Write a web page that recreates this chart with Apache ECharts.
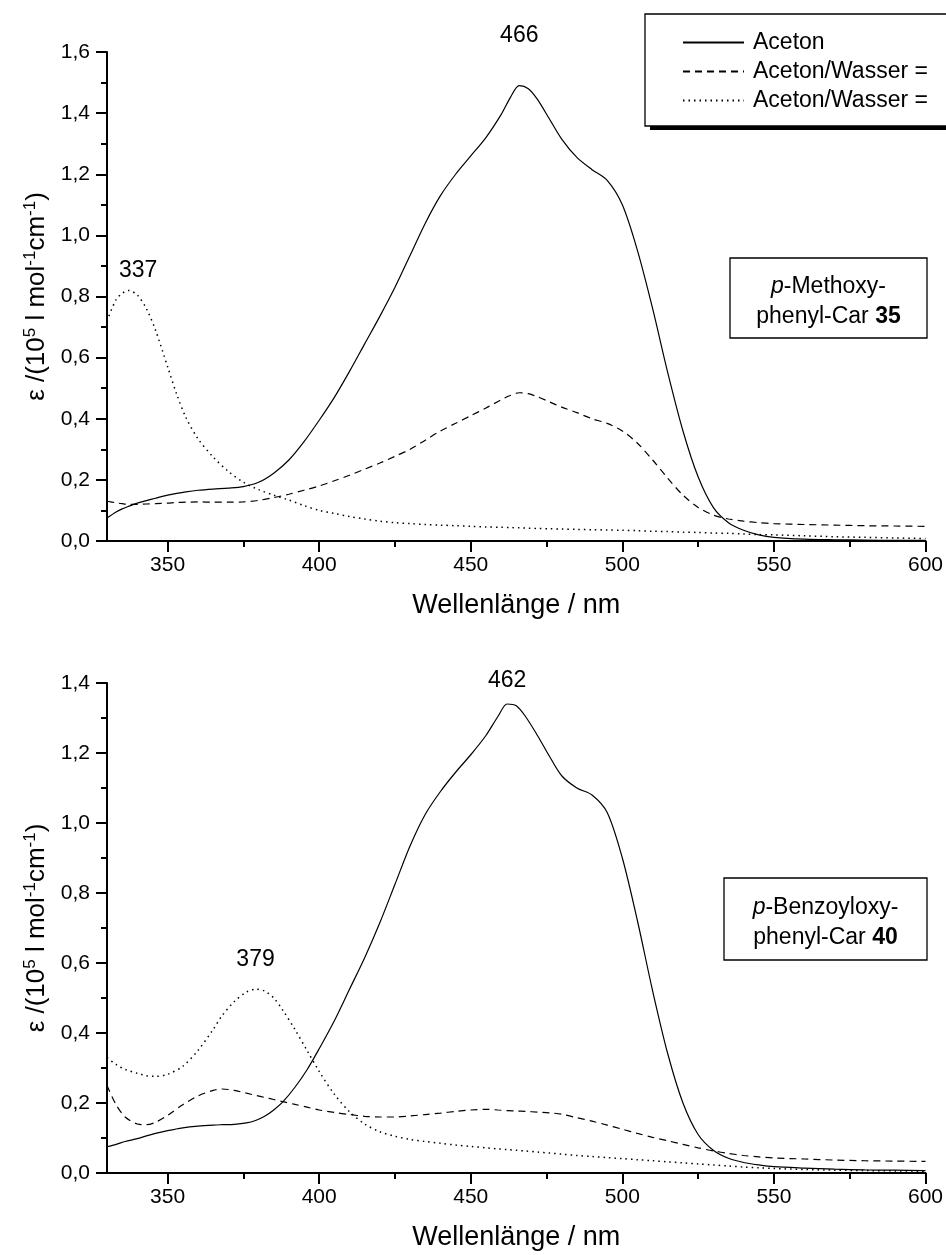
<!DOCTYPE html>
<html>
<head>
<meta charset="utf-8">
<title>UV/Vis-Spektren</title>
<script src="https://cdn.jsdelivr.net/npm/echarts@6/dist/echarts.min.js"></script>
<style>
  html, body { margin: 0; padding: 0; background: #fff; }
  #chart { width: 946px; height: 1255px; }
</style>
</head>
<body>
<div id="chart"></div>
<script>
// ---- Spectra: p-Methoxyphenyl-Car 35 (upper panel) ----
const wlTop = [330, 333, 335, 337, 340, 343, 346, 350, 353, 356, 360, 365, 370, 375, 380, 385, 390, 395,
  400, 405, 410, 415, 420, 425, 430, 435, 440, 445, 450, 455, 460, 463, 466, 469, 472, 476, 480, 485,
  490, 495, 500, 505, 510, 515, 520, 525, 530, 535, 540, 545, 550, 560, 570, 580, 590, 600];
const acetonTop = [0.075, 0.095, 0.105, 0.113, 0.124, 0.132, 0.140, 0.150, 0.156, 0.161, 0.166, 0.170, 0.173, 0.178,
  0.192, 0.222, 0.265, 0.325, 0.395, 0.470, 0.555, 0.645, 0.735, 0.830, 0.935, 1.040, 1.130, 1.200, 1.260,
  1.320, 1.395, 1.450, 1.490, 1.480, 1.445, 1.380, 1.315, 1.255, 1.215, 1.180, 1.100, 0.950, 0.760, 0.550,
  0.360, 0.210, 0.110, 0.060, 0.035, 0.020, 0.012, 0.006, 0.004, 0.003, 0.002, 0.002];
const wasser1Top = [0.130, 0.125, 0.122, 0.120, 0.120, 0.121, 0.122, 0.124, 0.126, 0.127, 0.128, 0.127, 0.127, 0.128,
  0.133, 0.142, 0.153, 0.166, 0.180, 0.197, 0.215, 0.235, 0.255, 0.277, 0.300, 0.330, 0.360, 0.385, 0.410,
  0.435, 0.462, 0.476, 0.485, 0.482, 0.472, 0.455, 0.438, 0.420, 0.400, 0.385, 0.360, 0.320, 0.265, 0.205,
  0.150, 0.110, 0.085, 0.072, 0.065, 0.060, 0.057, 0.054, 0.052, 0.050, 0.049, 0.048];
const wasser2Top = [0.720, 0.790, 0.810, 0.820, 0.805, 0.760, 0.690, 0.570, 0.480, 0.405, 0.335, 0.275, 0.228, 0.192,
  0.168, 0.150, 0.134, 0.116, 0.100, 0.090, 0.080, 0.072, 0.065, 0.060, 0.057, 0.054, 0.052, 0.050, 0.048,
  0.046, 0.045, 0.044, 0.043, 0.042, 0.041, 0.040, 0.039, 0.038, 0.037, 0.036, 0.035, 0.034, 0.032, 0.031,
  0.029, 0.028, 0.026, 0.025, 0.023, 0.021, 0.020, 0.017, 0.014, 0.012, 0.010, 0.008];

// ---- Spectra: p-Benzoyloxyphenyl-Car 40 (lower panel) ----
const wlBottom = [330, 333, 336, 340, 343, 346, 350, 355, 360, 365, 368, 372, 376, 379, 382, 385, 388, 392, 396,
  400, 405, 410, 415, 420, 425, 430, 435, 440, 445, 450, 455, 459, 462, 465, 468, 472, 476, 480, 485, 490,
  495, 500, 505, 510, 515, 520, 525, 530, 535, 540, 545, 550, 560, 570, 580, 590, 600];
const acetonBottom = [0.075, 0.082, 0.090, 0.098, 0.106, 0.113, 0.121, 0.129, 0.134, 0.137, 0.138, 0.139, 0.143,
  0.150, 0.162, 0.180, 0.203, 0.245, 0.295, 0.355, 0.435, 0.525, 0.615, 0.715, 0.825, 0.935, 1.025, 1.090,
  1.145, 1.195, 1.250, 1.305, 1.340, 1.335, 1.305, 1.250, 1.190, 1.135, 1.100, 1.080, 1.030, 0.900, 0.720,
  0.520, 0.340, 0.200, 0.110, 0.065, 0.042, 0.030, 0.023, 0.018, 0.014, 0.011, 0.009, 0.008, 0.007];
const wasser1Bottom = [0.250, 0.195, 0.160, 0.140, 0.138, 0.145, 0.165, 0.195, 0.220, 0.236, 0.240, 0.236, 0.228,
  0.222, 0.216, 0.210, 0.204, 0.196, 0.188, 0.180, 0.173, 0.167, 0.162, 0.160, 0.160, 0.163, 0.167, 0.171,
  0.176, 0.180, 0.182, 0.180, 0.178, 0.177, 0.176, 0.174, 0.172, 0.168, 0.158, 0.148, 0.137, 0.125, 0.113,
  0.102, 0.092, 0.082, 0.072, 0.063, 0.056, 0.050, 0.046, 0.043, 0.040, 0.037, 0.035, 0.034, 0.033];
const wasser2Bottom = [0.330, 0.310, 0.296, 0.285, 0.278, 0.276, 0.282, 0.305, 0.350, 0.410, 0.450, 0.490, 0.517,
  0.525, 0.520, 0.500, 0.465, 0.410, 0.350, 0.290, 0.225, 0.175, 0.140, 0.118, 0.105, 0.096, 0.090, 0.085,
  0.080, 0.076, 0.072, 0.069, 0.067, 0.065, 0.063, 0.060, 0.057, 0.054, 0.050, 0.047, 0.044, 0.041, 0.038,
  0.035, 0.032, 0.029, 0.026, 0.023, 0.020, 0.017, 0.015, 0.013, 0.010, 0.008, 0.007, 0.006, 0.005];

// ---- Axes and labels ----
const xMin = 330, xMax = 600;
const xTicks = [350, 400, 450, 500, 550, 600];
const xMinorTicks = [375, 425, 475, 525, 575];
const yMaxTop = 1.6, yMaxBottom = 1.4, yStep = 0.2;
const xTitle = 'Wellenlänge / nm';
const seriesNames = ['Aceton', 'Aceton/Wasser I', 'Aceton/Wasser II'];
const legendLabels = ['Aceton', 'Aceton/Wasser =', 'Aceton/Wasser ='];
const compoundTop = ['p', '-Methoxy-', 'phenyl-Car ', '35'];
const compoundBottom = ['p', '-Benzoyloxy-', 'phenyl-Car ', '40'];

const FONT = '"Liberation Sans", Arial, Helvetica, sans-serif';
const BLACK = '#000';

const pairs = (xs, ys) => xs.map((x, i) => [x, ys[i]]);
function peakOf(xs, ys) {
  let k = 0;
  for (let i = 1; i < ys.length; i++) if (ys[i] > ys[k]) k = i;
  return [xs[k], ys[k]];
}
const commaFmt = v => v.toFixed(1).replace('.', ',');

const GRID_LEFT = 107, GRID_W = 819;
const grids = [
  { left: GRID_LEFT, top: 52, width: GRID_W, height: 489 },
  { left: GRID_LEFT, top: 683, width: GRID_W, height: 490 }
];

function mainX(gridIndex) {
  return {
    gridIndex, type: 'value', min: xMin, max: xMax, position: 'bottom',
    axisLine: { show: true, onZero: false, lineStyle: { color: BLACK, width: 2 } },
    axisTick: { show: true, customValues: xTicks, length: 11, lineStyle: { color: BLACK, width: 2 } },
    axisLabel: { customValues: xTicks, margin: 14, fontSize: 21, fontFamily: FONT, color: BLACK },
    splitLine: { show: false },
    name: xTitle, nameLocation: 'middle', nameGap: 51,
    nameTextStyle: { fontSize: 27, fontFamily: FONT, color: BLACK }
  };
}
// short intermediate ticks, drawn by a companion axis laid onto the bottom edge
function minorX(gridIndex) {
  return {
    gridIndex, type: 'value', min: xMin, max: xMax, position: 'top', offset: -grids[gridIndex].height,
    axisLine: { show: false, onZero: false },
    axisTick: { show: true, inside: true, customValues: xMinorTicks, length: 6, lineStyle: { color: BLACK, width: 2 } },
    axisLabel: { show: false }, splitLine: { show: false }
  };
}
const yName = '{t|ε /(10}{s|5}{t| l mol}{s|-1}{t|cm}{s|-1}{t|)}';
function yAx(gridIndex, max) {
  return {
    gridIndex, type: 'value', min: 0, max, interval: yStep,
    axisLine: { show: true, onZero: false, lineStyle: { color: BLACK, width: 2 } },
    axisTick: { show: true, length: 11, lineStyle: { color: BLACK, width: 2 } },
    minorTick: { show: true, splitNumber: 2, length: 6, lineStyle: { color: BLACK, width: 2 } },
    axisLabel: { formatter: commaFmt, margin: 17, fontSize: 21, fontFamily: FONT, color: BLACK },
    splitLine: { show: false }, minorSplitLine: { show: false },
    name: yName, nameLocation: 'middle', nameRotate: 90, nameGap: 54,
    nameTextStyle: {
      fontSize: 26, fontFamily: FONT, color: BLACK,
      rich: {
        t: { fontSize: 26, fontFamily: FONT, color: BLACK, lineHeight: 31 },
        s: { fontSize: 17, fontFamily: FONT, color: BLACK, lineHeight: 17, verticalAlign: 'top' }
      }
    }
  };
}

const lineTypes = ['solid', [7, 5], [1.5, 4]];
function spectrum(idx, xs, ys, xAxisIndex, yAxisIndex, peakLabel) {
  const s = {
    name: seriesNames[idx], type: 'line', xAxisIndex, yAxisIndex,
    data: pairs(xs, ys), symbol: 'none', showSymbol: false, smooth: 0.3,
    lineStyle: { color: BLACK, width: idx === 2 ? 1.5 : 1.2, type: lineTypes[idx] },
    itemStyle: { color: BLACK },
    emphasis: { disabled: true }, silent: true
  };
  if (peakLabel) {
    const p = peakOf(xs, ys);
    s.markPoint = {
      symbol: 'circle', symbolSize: 0, silent: true,
      data: [{ coord: p, value: p[0] }],
      label: {
        show: true, position: 'top', distance: peakLabel.distance, offset: [peakLabel.dx || 0, 0],
        formatter: q => String(q.value), fontSize: 23, fontFamily: FONT, color: BLACK
      }
    };
  }
  return s;
}

function compoundBox(x, y, w, h, parts) {
  return {
    type: 'group', z: 50,
    children: [
      { type: 'rect', shape: { x, y, width: w, height: h }, style: { fill: '#fff', stroke: BLACK, lineWidth: 1.3 } },
      {
        type: 'text', x: x + w / 2, y: y + h / 2 + 4,
        style: {
          text: '{i|' + parts[0] + '}{r|' + parts[1] + '}\n{r|' + parts[2] + '}{b|' + parts[3] + '}',
          align: 'center', verticalAlign: 'middle', fill: BLACK,
          fontSize: 23, fontFamily: FONT, lineHeight: 30,
          rich: {
            r: { fontSize: 23, fontFamily: FONT, fill: BLACK, lineHeight: 30 },
            i: { fontSize: 23, fontFamily: FONT, fontStyle: 'italic', fill: BLACK, lineHeight: 30 },
            b: { fontSize: 23, fontFamily: FONT, fontWeight: 'bold', fill: BLACK, lineHeight: 30 }
          }
        }
      }
    ]
  };
}

const option = {
  animation: false,
  backgroundColor: '#fff',
  grid: grids,
  xAxis: [mainX(0), minorX(0), mainX(1), minorX(1)],
  yAxis: [yAx(0, yMaxTop), yAx(1, yMaxBottom)],
  legend: {
    show: true, orient: 'vertical', left: 645, top: 14, z: 10,
    padding: [17, 30, 14, 37], itemWidth: 61, itemHeight: 12, itemGap: 6,
    backgroundColor: '#fff', borderColor: BLACK, borderWidth: 1.3,
    selectedMode: false,
    itemStyle: { opacity: 0 },
    data: seriesNames,
    formatter: name => legendLabels[seriesNames.indexOf(name)],
    textStyle: { fontSize: 23, fontFamily: FONT, color: BLACK, lineHeight: 23, padding: [0, 0, 0, 4] }
  },
  series: [
    spectrum(0, wlTop, acetonTop, 0, 0, { distance: 38 }),
    spectrum(1, wlTop, wasser1Top, 0, 0),
    spectrum(2, wlTop, wasser2Top, 0, 0, { distance: 8, dx: 10 }),
    spectrum(0, wlBottom, acetonBottom, 2, 1, { distance: 12 }),
    spectrum(1, wlBottom, wasser1Bottom, 2, 1),
    spectrum(2, wlBottom, wasser2Bottom, 2, 1, { distance: 18 })
  ],
  graphic: [
    // drop shadow under the legend frame
    { type: 'rect', z: 5, silent: true, shape: { x: 650, y: 18, width: 320, height: 112 }, style: { fill: BLACK } },
    compoundBox(730, 258, 197, 80, compoundTop),
    compoundBox(724, 878, 203, 82, compoundBottom)
  ]
};

const chart = echarts.init(document.getElementById('chart'), null, { renderer: 'canvas' });
chart.setOption(option);
</script>
</body>
</html>
